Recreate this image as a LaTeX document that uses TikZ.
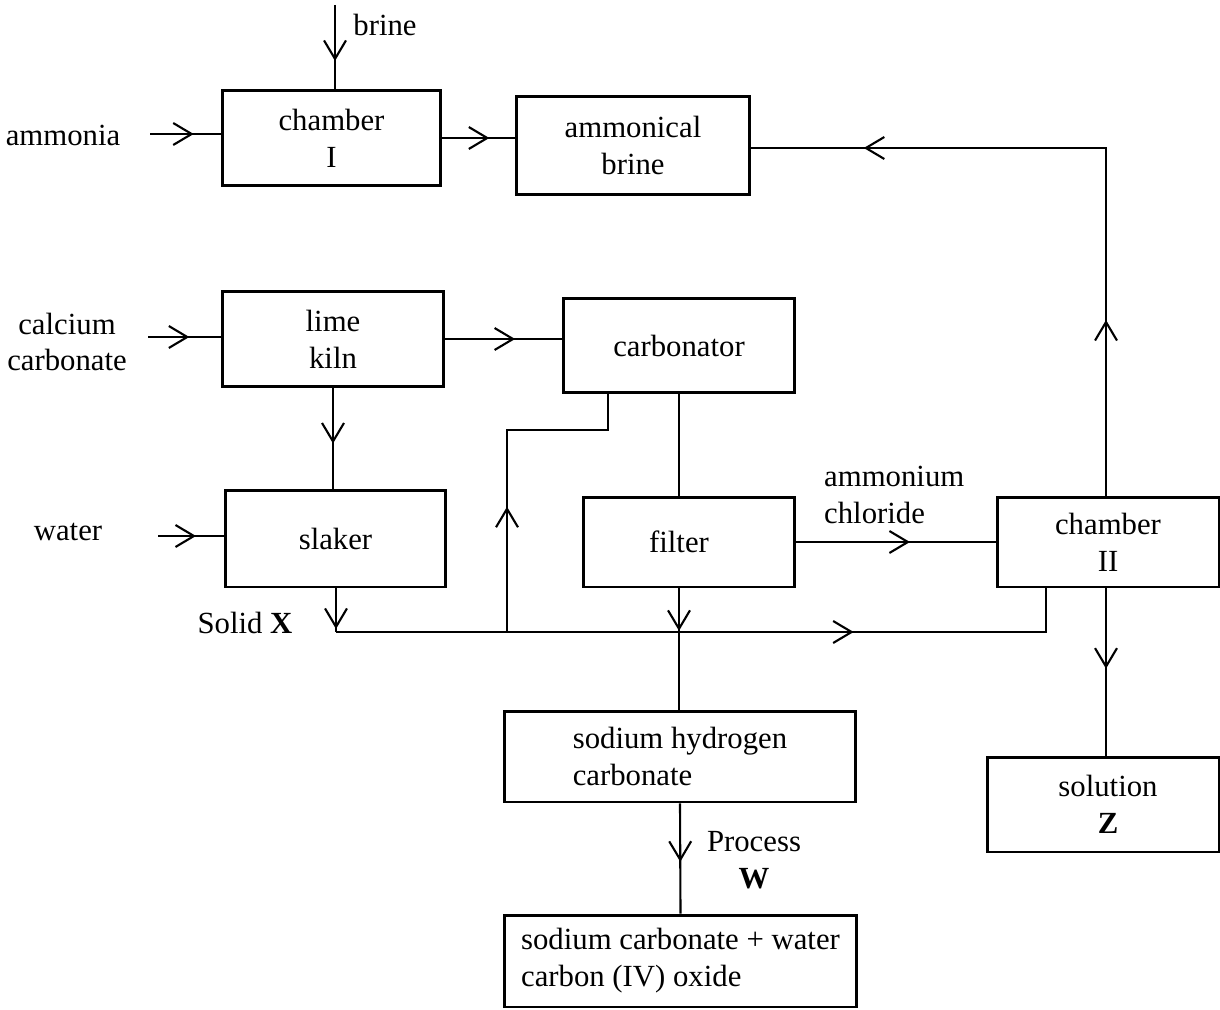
\documentclass[tikz,border=0pt]{standalone}
\usepackage{fontspec}
\setmainfont{Liberation Serif}
\usetikzlibrary{arrows.meta,decorations.markings}
\tikzset{
  mybarb/.tip={Straight Barb[length=10.5pt,width=12.5pt]},
  box/.style={draw, line width=1.7pt, inner sep=0pt, align=center},
  flow/.style={line width=1.2pt},
  marr/.style={postaction={decorate},decoration={markings,mark=at position #1 with {\arrow{mybarb}}}},
  marrtwo/.style 2 args={postaction={decorate},decoration={markings,mark=at position #1 with {\arrow{mybarb}},mark=at position #2 with {\arrow{mybarb}}}},
  every node/.style={font=\fontsize{17.5}{21}\selectfont}
}
\begin{document}
\begin{tikzpicture}[x=0.02cm,y=-0.02cm]
\useasboundingbox (0,0) rectangle (1220,1010);
% boxes
\node[box, minimum width=4.38cm, minimum height=1.92cm] (c1) at (331.5,138) {chamber\\I};
\node[box, minimum width=4.68cm, minimum height=1.98cm] (ab) at (633,145.5) {ammonical\\brine};
\node[box, minimum width=4.44cm, minimum height=1.92cm] (lk) at (333,339) {lime\\kiln};
\node[box, minimum width=4.64cm, minimum height=1.90cm] (cb) at (679,345.5) {carbonator};
\node[box, minimum width=4.42cm, minimum height=1.94cm] (sl) at (335.5,538.5) {slaker};
\node[box, minimum width=4.24cm, minimum height=1.80cm] (fi) at (689,542) {\hspace*{-0.4cm}filter};
\node[box, minimum width=4.44cm, minimum height=1.80cm] (c2) at (1108,542) {chamber\\II};
\node[box, minimum width=4.64cm, minimum height=1.90cm] (sz) at (1103,804.5) {\hspace*{0.2cm}solution\\\hspace*{0.2cm}\textbf{Z}};
\node[box, minimum width=7.04cm, minimum height=1.82cm, align=left] (shc) at (680,756.5) {sodium hydrogen\\carbonate};
\node[box, minimum width=7.06cm, minimum height=1.84cm, align=left] (sc) at (680.5,961) {sodium carbonate + water\\carbon (IV) oxide};
% labels
\node (lbrine) at (385,25) {brine};
\node (lam) at (63,135) {ammonia};
\node[align=center] (lca) at (67,342) {calcium\\carbonate};
\node (lwa) at (68,532) {water};
\node (lsx) at (245,623) {Solid \textbf{X}};
\node[align=left, anchor=west] (lac) at (818,495) {ammonium\\chloride};
\node[align=center] (lpw) at (754,860) {Process\\\textbf{W}};
% coordinates
\coordinate (brS) at (335,5);
\coordinate (amS) at (150,134);
\coordinate (caS) at (148,337);
\coordinate (waS) at (158,536);
\coordinate (rt) at (1106,148);
\coordinate (J0) at (336,632);
\coordinate (J1) at (507,632);
\coordinate (J3) at (1046,632);
\coordinate (E1) at (507,430);
\coordinate (E2) at (608,430);
% connectors
\draw[flow, marr=0.67] (brS) -- (brS |- c1.north);
\draw[flow, marr=0.62] (amS) -- (amS -| c1.west);
\draw[flow, marr=0.65] (c1.east) -- (c1.east -| ab.west);
\draw[flow, marrtwo={0.25}{0.84}] (c2.north -| rt) -- (rt) -- (rt -| ab.east);
\draw[flow, marr=0.57] (caS) -- (caS -| lk.west);
\draw[flow, marr=0.6] (lk.east) -- (lk.east -| cb.west);
\draw[flow, marr=0.55] (lk.south) -- (lk.south |- sl.north);
\draw[flow, marr=0.58] (waS) -- (waS -| sl.west);
\draw[flow] (cb.south) -- (cb.south |- fi.north);
\draw[flow, marr=0.37] (J1) -- (E1) -- (E2) -- (E2 |- cb.south);
\draw[flow, marr=0.93] (sl.south -| J0) -- (J0);
\draw[flow, marr=0.687] (J0) -- (J3) -- (J3 |- c2.south);
\draw[flow, marr=0.35] (cb.south |- fi.south) -- (cb.south |- shc.north);
\draw[flow, marr=0.57] (fi.east) -- (c2.west);
\draw[flow, marr=0.48] (c2.south -| rt) -- (rt |- sz.north);
\draw[flow, marr=0.53] (shc.south) -- (sc.north);
\end{tikzpicture}
\end{document}
